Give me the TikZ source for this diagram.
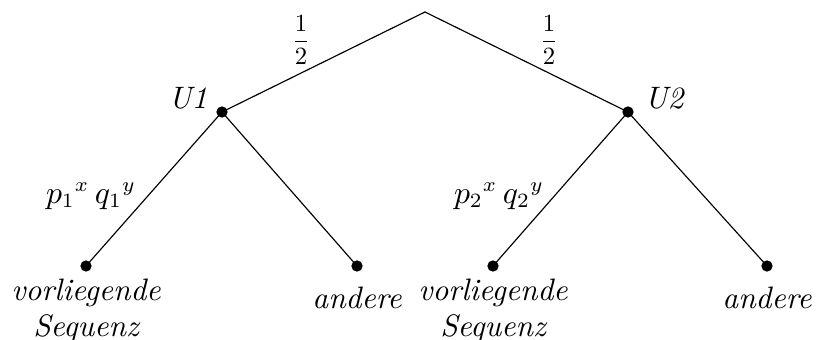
\documentclass[tikz,border=0pt]{standalone}
\usepackage{amsmath}
\usepackage{tikz}
\usetikzlibrary{positioning}

\begin{document}
\begin{tikzpicture}[
  x=0.345pt, y=-0.345pt,
  every node/.style={font=\fontsize{10.7pt}{12.4pt}\selectfont\itshape},
  knot/.style={circle, fill=black, inner sep=0pt, minimum size=3.9pt},
  branch/.style={thin, black},
  half/.style={scale=0.78}
]
  \useasboundingbox (0, 0) rectangle (827, 340);

  \coordinate (root) at (425, 12);
  \node[knot] (u1) at (222, 112) {};
  \node[knot] (u2) at (628, 112) {};
  \node[knot] (s1) at (86, 266) {};
  \node[knot] (a1) at (357, 266) {};
  \node[knot] (s2) at (493, 266) {};
  \node[knot] (a2) at (767, 266) {};

  \node (l1) at (188, 98) {U1};
  \node (l2) at (664, 98) {U2};
  \node[half] (h1) at (301, 40) {$\dfrac{1}{2}$};
  \node[half] (h2) at (549, 40) {$\dfrac{1}{2}$};
  \node (w1) at (91, 196) {${p_1}^x\,{q_1}^y$};
  \node (w2) at (499, 196) {${p_2}^x\,{q_2}^y$};

  \node[align=center] (t1) at (86, 311) {vorliegende\\Sequenz};
  \node (t2) at (357, 298) {andere};
  \node[align=center] (t3) at (493, 311) {vorliegende\\Sequenz};
  \node (t4) at (767, 298) {andere};

  \draw[branch] (root) -- (u1.center);
  \draw[branch] (root) -- (u2.center);
  \foreach \a/\b in {u1/s1, u1/a1, u2/s2, u2/a2}{
    \draw[branch] (\a.center) -- (\b.center);
  }
\end{tikzpicture}
\end{document}
